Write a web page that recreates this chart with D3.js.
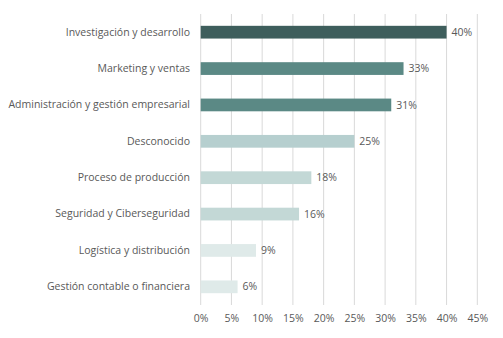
<!DOCTYPE html>
<html>
<head>
<meta charset="utf-8">
<script src="https://cdn.jsdelivr.net/npm/d3@7"></script>
<style>
  body { margin: 0; background: #fff; }
  text { font-family: "Open Sans", sans-serif; fill: #595959; }
</style>
</head>
<body>
<svg id="chart" width="503" height="338"></svg>
<script>
// ** Data **
const categories = [
	"Investigación y desarrollo",
	"Marketing y ventas",
	"Administración y gestión empresarial",
	"Desconocido",
	"Proceso de producción",
	"Seguridad y Ciberseguridad",
	"Logística y distribución",
	"Gestión contable o financiera"
];
const values = [40, 33, 31, 25, 18, 16, 9, 6];
const barColors = ["#3e5e5c", "#5b8985", "#5b8985", "#b6cfcf", "#c3d8d6", "#c3d8d6", "#dfeae9", "#dfeae9"];
const xTicks = [0, 5, 10, 15, 20, 25, 30, 35, 40, 45];

// ** Layout **
const plotLeft = 200.7, plotRight = 477.3, plotTop = 14, plotBottom = 305;
const fontSize = "10.5px";

const svg = d3.select("#chart");

const x = d3.scaleLinear().domain([0, 45]).range([plotLeft, plotRight]);
const y = d3.scaleBand().domain(categories).range([plotTop, plotBottom]).paddingInner(0.65).paddingOuter(0.325);

// vertical gridlines
svg.append("g")
	.selectAll("line")
	.data(xTicks)
	.join("line")
	.attr("x1", d => x(d)).attr("x2", d => x(d))
	.attr("y1", plotTop).attr("y2", plotBottom)
	.attr("stroke", "#d9d9d9")
	.attr("stroke-width", 1);

// x axis labels
const xAxis = d3.axisBottom(x).tickValues(xTicks).tickFormat(d => d + "%").tickSize(0).tickPadding(0);
const gx = svg.append("g").attr("transform", `translate(0,${plotBottom + 10})`).call(xAxis);
gx.select(".domain").remove();
gx.selectAll("text").attr("font-size", fontSize).attr("font-family", "Open Sans, sans-serif").attr("fill", "#595959");

// category labels
const yAxis = d3.axisLeft(y).tickSize(0).tickPadding(0);
const gy = svg.append("g").attr("transform", `translate(190,0)`).call(yAxis);
gy.select(".domain").remove();
gy.selectAll("text").attr("font-size", fontSize).attr("font-family", "Open Sans, sans-serif").attr("fill", "#595959");

// bars
svg.append("g")
	.selectAll("rect")
	.data(values)
	.join("rect")
	.attr("x", x(0))
	.attr("y", (d, i) => y(categories[i]))
	.attr("width", d => x(d) - x(0))
	.attr("height", y.bandwidth())
	.attr("fill", (d, i) => barColors[i]);

// value labels
svg.append("g")
	.selectAll("text")
	.data(values)
	.join("text")
	.attr("x", d => x(d) + 5)
	.attr("y", (d, i) => y(categories[i]) + y.bandwidth() / 2)
	.attr("dy", "0.35em")
	.attr("font-size", fontSize)
	.text(d => d + "%");
</script>
</body>
</html>
